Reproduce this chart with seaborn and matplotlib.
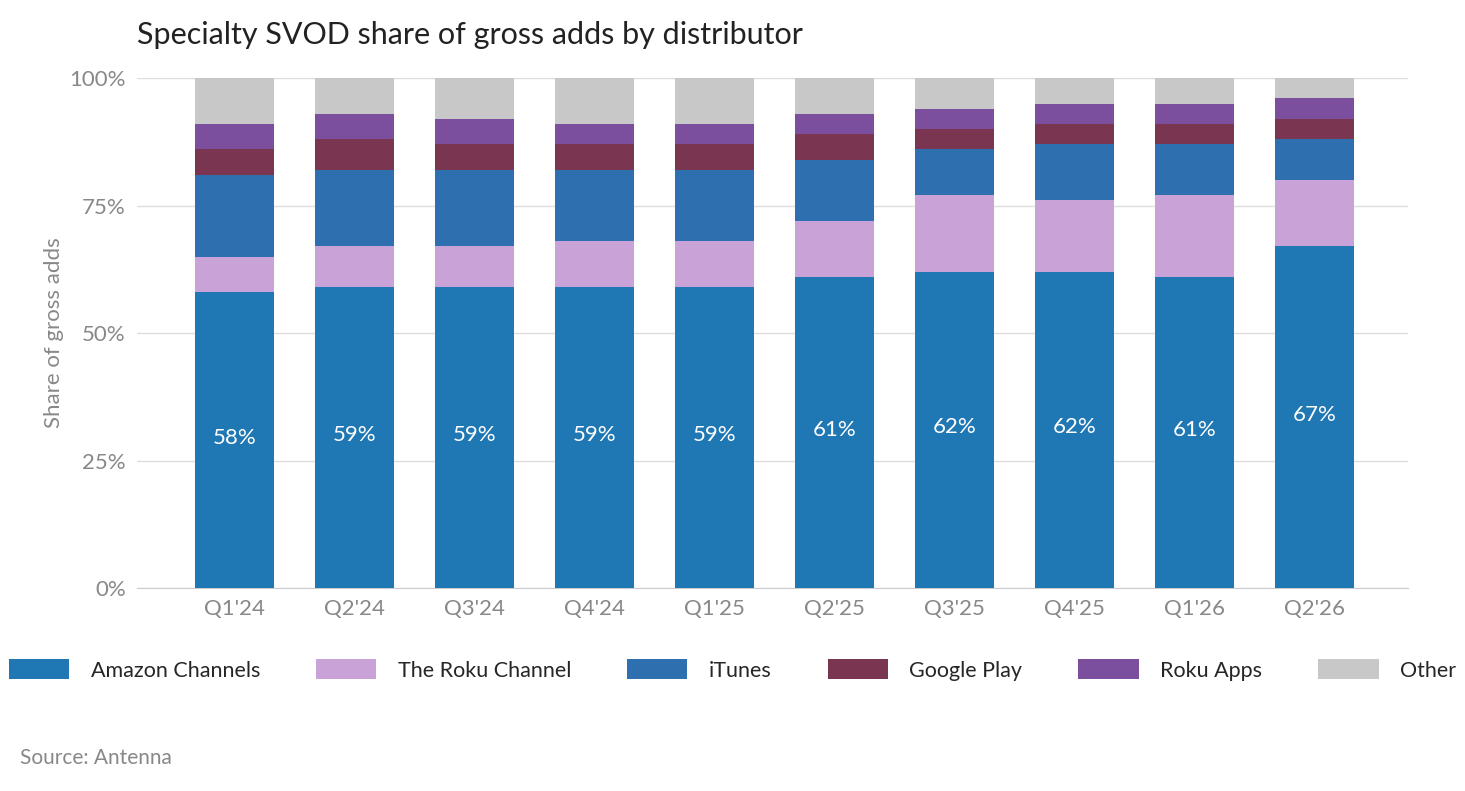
import numpy as np
import pandas as pd
import matplotlib
matplotlib.use("Agg")
import matplotlib.pyplot as plt
import seaborn as sns

quarters = ["Q1'24", "Q2'24", "Q3'24", "Q4'24", "Q1'25", "Q2'25", "Q3'25", "Q4'25", "Q1'26", "Q2'26"]
amazon = [58, 59, 59, 59, 59, 61, 62, 62, 61, 67]
roku_channel = [7, 8, 8, 9, 9, 11, 15, 14, 16, 13]
itunes = [16, 15, 15, 14, 14, 12, 9, 11, 10, 8]
google_play = [5, 6, 5, 5, 5, 5, 4, 4, 4, 4]
roku_apps = [5, 5, 5, 4, 4, 4, 4, 4, 4, 4]
other = [9, 7, 8, 9, 9, 7, 6, 5, 5, 4]

series = [("Amazon Channels", amazon, "#1f77b4"),
          ("The Roku Channel", roku_channel, "#c9a3d8"),
          ("iTunes", itunes, "#2e6fb0"),
          ("Google Play", google_play, "#7a3550"),
          ("Roku Apps", roku_apps, "#7b4f9e"),
          ("Other", other, "#c8c8c8")]

sns.set_style("white")
plt.rcParams['font.family'] = ['Lato', 'DejaVu Sans']

fig = plt.figure(figsize=(14.65, 7.91), dpi=100)
ax = fig.add_axes([137/1465, 1 - 588/791, (1408-137)/1465, 510/791])

bottom = np.zeros(len(quarters))
for name, vals, col in series:
    df = pd.DataFrame({"q": quarters, "v": vals})
    sns.barplot(data=df, x="q", y="v", color=col, bottom=bottom, width=0.66,
                ax=ax, label=name, saturation=1, linewidth=0, zorder=3)
    bottom += np.array(vals)

for i, v in enumerate(amazon):
    ax.text(i, v / 2 + 0.5, f"{v}%", ha="center", va="center", color="white", fontsize=16, zorder=4)

ax.set_ylim(0, 100)
ax.set_xlim(-0.81, 9.78)
ax.set_yticks([0, 25, 50, 75, 100])
ax.set_yticklabels(["0%", "25%", "50%", "75%", "100%"])
ax.yaxis.grid(True, color="#dddddd", linewidth=1, zorder=0)
for s in ["top", "right", "left"]:
    ax.spines[s].set_visible(False)
ax.spines["bottom"].set_color("#cccccc")
ax.tick_params(axis="both", colors="#888888", labelsize=16, length=0, pad=8)
ax.set_xlabel("")
ax.set_ylabel("Share of gross adds", color="#888888", fontsize=16)

fig.legend(*ax.get_legend_handles_labels(), loc="center", bbox_to_anchor=(0.5, 1 - 670/791),
           ncol=6, frameon=False, fontsize=15.5, handlelength=2.8, handleheight=1,
           handletextpad=1.0, columnspacing=2.6)
ax.get_legend().remove() if ax.get_legend() else None

fig.text(137/1465, 1 - 35/791, "Specialty SVOD share of gross adds by distributor",
         fontsize=22, va="center", color="#222222")
fig.text(20/1465, 1 - 758/791, "Source: Antenna", fontsize=15, color="#888888", va="center")

fig.savefig("out.png", dpi=100)
